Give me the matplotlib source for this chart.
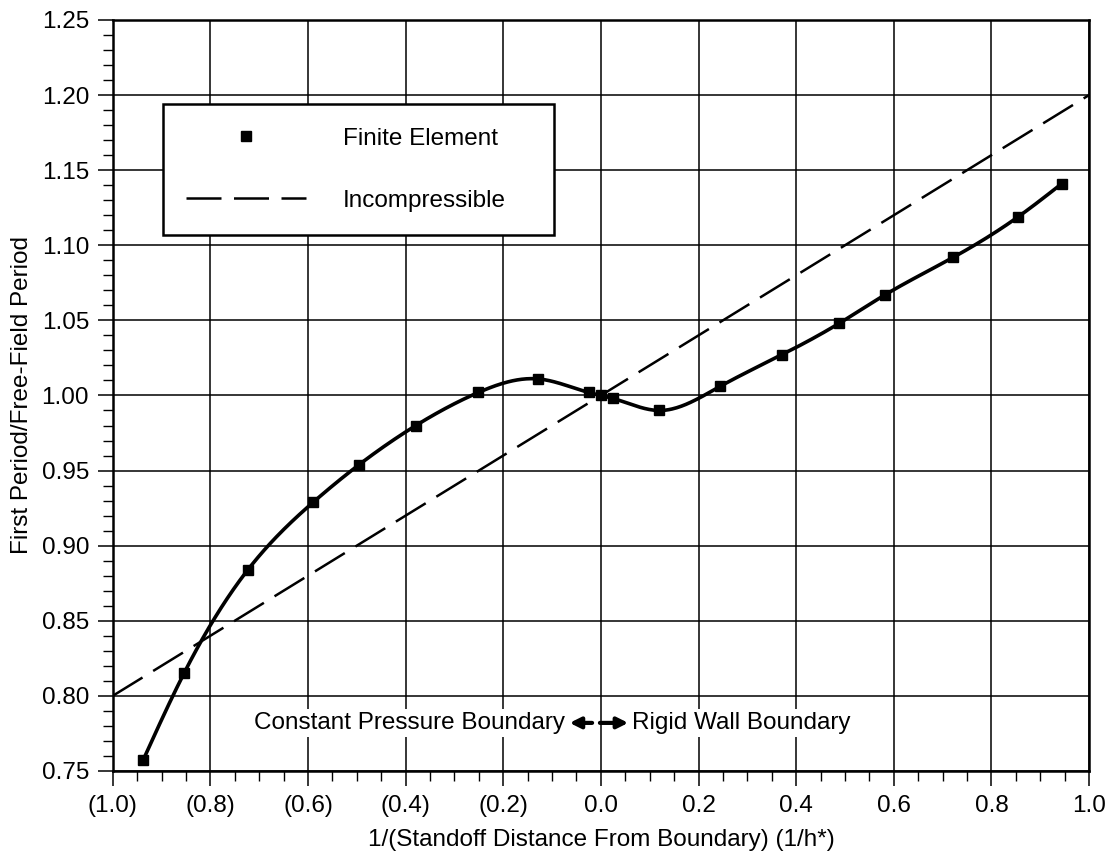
import numpy as np
import matplotlib
matplotlib.use("Agg")
import matplotlib.pyplot as plt
from matplotlib.ticker import MultipleLocator, FuncFormatter

plt.rcParams['font.family'] = ['Liberation Sans', 'DejaVu Sans']

# finite element results
x_fe = [-0.938, -0.854, -0.723, -0.589, -0.495, -0.379, -0.251, -0.128, -0.025,
        0.0, 0.025, 0.120, 0.244, 0.370, 0.488, 0.582, 0.722, 0.855, 0.944]
y_fe = [0.757, 0.815, 0.884, 0.929, 0.954, 0.980, 1.002, 1.011, 1.002,
        1.000, 0.998, 0.990, 1.006, 1.027, 1.048, 1.067, 1.092, 1.119, 1.141]

# incompressible theory (straight line)
x_inc = [-1.0, 1.0]
y_inc = [0.80, 1.20]

fs = 17.5


def smooth(x, y, n=600):
    # natural cubic spline through the points, only for drawing the curve
    x = np.asarray(x, float)
    y = np.asarray(y, float)
    k = len(x)
    h = np.diff(x)
    A = np.zeros((k, k))
    b = np.zeros(k)
    A[0, 0] = 1
    A[-1, -1] = 1
    for i in range(1, k - 1):
        A[i, i - 1] = h[i - 1]
        A[i, i] = 2 * (h[i - 1] + h[i])
        A[i, i + 1] = h[i]
        b[i] = 6 * ((y[i + 1] - y[i]) / h[i] - (y[i] - y[i - 1]) / h[i - 1])
    M = np.linalg.solve(A, b)
    xs = np.linspace(x[0], x[-1], n)
    idx = np.clip(np.searchsorted(x, xs) - 1, 0, k - 2)
    x0, x1 = x[idx], x[idx + 1]
    hh = x1 - x0
    a = (x1 - xs) / hh
    c = (xs - x0) / hh
    ys = (a * y[idx] + c * y[idx + 1]
          + ((a**3 - a) * M[idx] + (c**3 - c) * M[idx + 1]) * hh**2 / 6)
    return xs, ys


fig = plt.figure(figsize=(11.17, 8.57), dpi=100)
ax = fig.add_axes([0.1009, 0.1004, 0.8741, 0.8763])

xs, ys = smooth(x_fe, y_fe)
ax.plot(xs, ys, color='black', lw=2.6, zorder=3)
ax.plot(x_fe, y_fe, ls='none', marker='s', ms=7, color='black', zorder=4,
        label='Finite Element')
ax.plot(x_inc, y_inc, color='black', lw=1.8, dashes=(14, 5), zorder=3,
        label='Incompressible')

ax.set_xlim(-1.0, 1.0)
ax.set_ylim(0.75, 1.25)
ax.xaxis.set_major_locator(MultipleLocator(0.2))
ax.xaxis.set_minor_locator(MultipleLocator(0.05))
ax.yaxis.set_major_locator(MultipleLocator(0.05))
ax.yaxis.set_minor_locator(MultipleLocator(0.01))


def xfmt(v, pos):
    if v < -1e-9:
        return '({:.1f})'.format(-v)
    return '{:.1f}'.format(abs(v))


ax.xaxis.set_major_formatter(FuncFormatter(xfmt))
ax.yaxis.set_major_formatter(FuncFormatter(lambda v, p: '{:.2f}'.format(v)))

ax.tick_params(which='major', direction='out', length=11, width=1.1,
               labelsize=fs, top=False, right=False, pad=6)
ax.tick_params(which='minor', direction='out', length=7, width=1.0,
               top=False, right=False)
ax.grid(True, which='major', color='black', lw=1.1)
ax.set_axisbelow(True)
for s in ax.spines.values():
    s.set_linewidth(1.8)

ax.set_xlabel('1/(Standoff Distance From Boundary) (1/h*)', fontsize=fs)
ax.set_ylabel('First Period/Free-Field Period', fontsize=fs)
ax.xaxis.set_label_coords(0.5, -0.077)
ax.yaxis.set_label_coords(-0.082, 0.5)

leg = ax.legend(loc='lower left', bbox_to_anchor=(0.0515, 0.714, 0.4005, 0.169),
                mode='expand', fontsize=fs, frameon=True, fancybox=False,
                borderpad=0.95, labelspacing=1.65, handlelength=4.95,
                handletextpad=1.5, borderaxespad=0)
leg.get_frame().set_edgecolor('black')
leg.get_frame().set_linewidth(1.8)
leg.get_frame().set_alpha(1)

box = dict(facecolor='white', edgecolor='none', pad=2)
ax.text(-0.074, 0.782, 'Constant Pressure Boundary', ha='right', va='center',
        fontsize=fs, zorder=5, bbox=box)
ax.text(0.064, 0.782, 'Rigid Wall Boundary', ha='left', va='center',
        fontsize=fs, zorder=5, bbox=box)
arw = dict(arrowstyle='-|>', lw=3, color='black', mutation_scale=16,
           shrinkA=0, shrinkB=0)
ax.annotate('', xy=(-0.064, 0.782), xytext=(-0.018, 0.782), arrowprops=arw,
            zorder=6)
ax.annotate('', xy=(0.056, 0.782), xytext=(-0.002, 0.782), arrowprops=arw,
            zorder=6)

fig.savefig('out.png', dpi=100)
